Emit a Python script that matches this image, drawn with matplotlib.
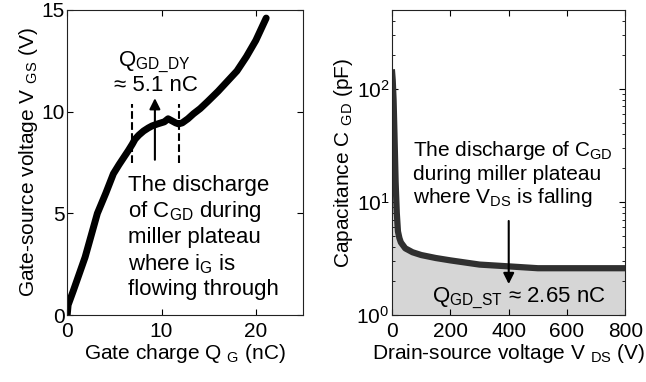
import matplotlib
matplotlib.use("Agg")
import matplotlib.pyplot as plt
import numpy as np

plt.rcParams['font.family'] = ['Liberation Sans', 'DejaVu Sans']
plt.rcParams['mathtext.default'] = 'regular'

# gate charge curve (left)
qg = [0, 0.1, 0.65, 1.9, 3.2, 4.1, 4.9, 5.5, 6.0, 6.5, 6.9, 7.2, 7.6, 8.1, 8.6, 9.0, 9.6, 10.3,
      10.7, 11.1, 11.5, 11.8, 12.2, 12.8, 13.4, 14.1, 14.9, 16.0, 17.0, 18.0, 19.0, 20.0, 21.1]
vgs = [0, 0.5, 1.2, 2.85, 5.0, 6.0, 6.95, 7.4, 7.75, 8.1, 8.4, 8.65, 8.85, 9.05, 9.2, 9.3, 9.4, 9.5,
       9.65, 9.55, 9.45, 9.4, 9.45, 9.65, 9.9, 10.15, 10.5, 11.0, 11.5, 12.0, 12.7, 13.5, 14.6]

# Cgd vs Vds (right)
vds = [0, 2, 5, 8, 12, 16, 20, 25, 30, 45, 70, 100, 150, 200, 300, 400, 500, 600, 700, 800]
cgd = [140, 120, 80, 40, 15, 8, 5.5, 4.8, 4.4, 3.9, 3.6, 3.4, 3.2, 3.05, 2.8, 2.7, 2.6, 2.6, 2.6, 2.6]

fig = plt.figure(figsize=(6.46, 3.82), dpi=100)
ax1 = fig.add_axes([0.104, 0.175, 0.365, 0.799])
ax2 = fig.add_axes([0.607, 0.175, 0.361, 0.799])

fs_tick = 15
fs_lab = 15
fs_txt = 16

# ---- left panel
ax1.plot(qg, vgs, color='black', linewidth=5, solid_capstyle='round', solid_joinstyle='round')
ax1.plot([6.9, 6.9], [7.5, 10.4], 'k--', linewidth=1.5)
ax1.plot([11.9, 11.9], [7.5, 10.4], 'k--', linewidth=1.5)
ax1.annotate('', xy=(9.3, 10.8), xytext=(9.3, 7.5),
             arrowprops=dict(arrowstyle='-|>', color='black', lw=1.5, mutation_scale=16))
ax1.text(5.4, 12.25, 'Q$_{GD\\_DY}$', fontsize=fs_txt, va='baseline')
ax1.text(5.0, 11.0, '≈ 5.1 nC', fontsize=fs_txt, va='baseline')
ax1.text(6.45, 1.0, 'The discharge\nof C$_{GD}$ during\nmiller plateau\nwhere i$_{G}$ is\nflowing through',
         fontsize=fs_txt, va='baseline', ha='left', linespacing=1.2)
ax1.set_xlim(0, 25)
ax1.set_ylim(0, 15)
ax1.set_xticks([0, 10, 20])
ax1.set_yticks([0, 5, 10, 15])
ax1.set_xlabel('Gate charge Q $_{G}$ (nC)', fontsize=fs_lab, labelpad=1)
ax1.set_ylabel('Gate-source voltage V $_{GS}$ (V)', fontsize=fs_lab, labelpad=1)

# ---- right panel
ax2.fill_between(vds, 1, cgd, color='#d6d6d6')
ax2.plot(vds, cgd, color='#303030', linewidth=4.5)
ax2.set_yscale('log')
ax2.set_xlim(0, 800)
ax2.set_ylim(1, 500)
ax2.set_xticks([0, 200, 400, 600, 800])
ax2.annotate('', xy=(400, 1.78), xytext=(400, 7.2),
             arrowprops=dict(arrowstyle='-|>', color='black', lw=1.5, mutation_scale=16))
ax2.text(72, 9.8, 'The discharge of C$_{GD}$\nduring miller plateau\nwhere V$_{DS}$ is falling',
         fontsize=15, va='baseline', ha='left', linespacing=1.15)
ax2.text(137, 1.30, 'Q$_{GD\\_ST}$ ≈ 2.65 nC', fontsize=fs_txt, va='baseline', ha='left')
ax2.set_xlabel('Drain-source voltage V $_{DS}$ (V)', fontsize=fs_lab, labelpad=1)
ax2.set_ylabel('Capacitance C $_{GD}$ (pF)', fontsize=fs_lab, labelpad=1)

for ax in (ax1, ax2):
    ax.tick_params(direction='in', top=True, right=True, labelsize=fs_tick, length=4, pad=2)
    ax.tick_params(axis='x', pad=5)
    ax.tick_params(which='minor', direction='in', top=False, right=True, length=2)
    for s in ax.spines.values():
        s.set_linewidth(0.8)
        s.set_color('#222222')

fig.savefig('out.png', dpi=100)
